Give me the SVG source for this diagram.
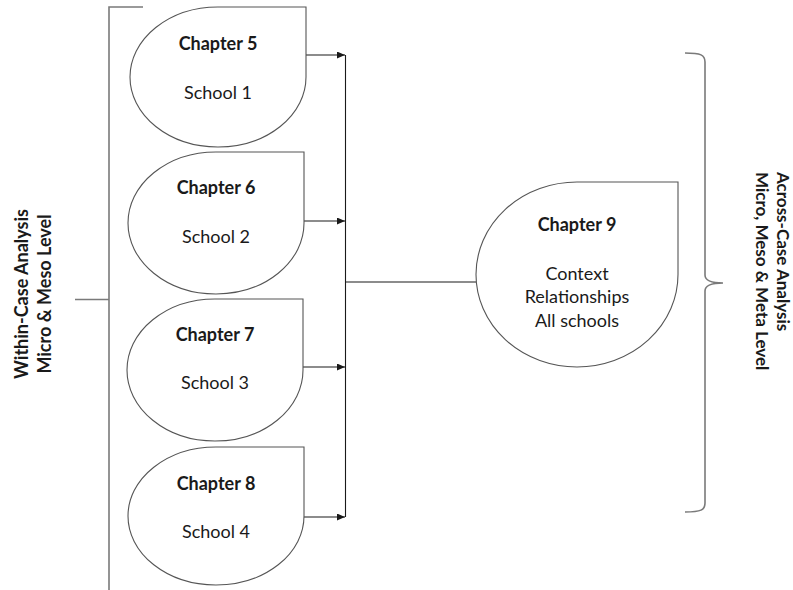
<svg xmlns="http://www.w3.org/2000/svg" width="793" height="590" viewBox="0 0 793 590">
  <style>
    .node { fill: #ffffff; stroke: #555555; stroke-width: 1.1; }
    .title { font-family: Lato, "Liberation Sans", sans-serif; font-size: 18px; font-weight: bold; fill: #1a1a1a; text-anchor: middle; }
    .body { font-family: Lato, "Liberation Sans", sans-serif; font-size: 18px; fill: #1a1a1a; text-anchor: middle; }
    .side { font-family: Lato, "Liberation Sans", sans-serif; font-weight: bold; fill: #1a1a1a; }
    .conn { fill: none; stroke: #1a1a1a; stroke-width: 1.1; }
    .brace { fill: none; stroke: #7a7a7a; stroke-width: 1.6; }
  </style>
  <defs>
    <marker id="arrow" markerUnits="userSpaceOnUse" markerWidth="8" markerHeight="7" refX="8" refY="3.5" orient="auto">
      <path d="M0,0 L8,3.5 L0,7 Z" fill="#1a1a1a"/>
    </marker>
  </defs>
  <rect width="793" height="590" fill="#ffffff"/>

  <!-- left bracket: within-case grouping -->
  <g id="left-bracket">
    <path class="brace" d="M143,7 H109 V590"/>
    <path class="brace" d="M75,299.5 H109"/>
    <text class="side" font-size="18" text-anchor="middle" transform="translate(28,294) rotate(-90)">Within-Case Analysis</text>
    <text class="side" font-size="18" text-anchor="middle" transform="translate(51,294) rotate(-90)">Micro &amp; Meso Level</text>
  </g>

  <!-- right brace: across-case grouping -->
  <g id="right-brace">
    <path class="brace" d="M685,53 C701,53 705,55 705,62 V275 Q705,283 723,283 Q705,283 705,291 V503 C705,510 701,512 685,512"/>
    <text class="side" font-size="17" text-anchor="start" transform="translate(777,172) rotate(90)">Across-Case Analysis</text>
    <text class="side" font-size="17" text-anchor="start" transform="translate(756,172) rotate(90)">Micro, Meso &amp; Meta Level</text>
  </g>

  <!-- connectors -->
  <g id="connectors">
    <line class="conn" x1="306" y1="55" x2="345" y2="55" marker-end="url(#arrow)"/>
    <line class="conn" x1="304" y1="221" x2="345" y2="221" marker-end="url(#arrow)"/>
    <line class="conn" x1="303" y1="367" x2="345" y2="367" marker-end="url(#arrow)"/>
    <line class="conn" x1="304" y1="517" x2="345" y2="517" marker-end="url(#arrow)"/>
    <line class="conn" x1="345.5" y1="55" x2="345.5" y2="517"/>
    <line class="conn" x1="345.5" y1="282" x2="476" y2="282"/>
  </g>

  <g id="chapter5">
    <path class="node" d="M218,7 H306 V77 A88,70 0 0 1 218,147 A88,70 0 0 1 130,77 A88,70 0 0 1 218,7 Z"/>
    <text class="title" x="218" y="50">Chapter 5</text>
    <text class="body" x="218" y="99">School 1</text>
  </g>

  <g id="chapter6">
    <path class="node" d="M216,152 H304 V223 A88,71 0 0 1 216,294 A88,71 0 0 1 128,223 A88,71 0 0 1 216,152 Z"/>
    <text class="title" x="216" y="194">Chapter 6</text>
    <text class="body" x="216" y="243">School 2</text>
  </g>

  <g id="chapter7">
    <path class="node" d="M215,299 H303 V370 A88,71 0 0 1 215,441 A88,71 0 0 1 127,370 A88,71 0 0 1 215,299 Z"/>
    <text class="title" x="215" y="341">Chapter 7</text>
    <text class="body" x="215" y="389">School 3</text>
  </g>

  <g id="chapter8">
    <path class="node" d="M216,447 H304 V516 A88,69 0 0 1 216,585 A88,69 0 0 1 128,516 A88,69 0 0 1 216,447 Z"/>
    <text class="title" x="216" y="490">Chapter 8</text>
    <text class="body" x="216" y="538">School 4</text>
  </g>

  <g id="chapter9">
    <path class="node" d="M577,182 H678 V274.5 A101,92.5 0 0 1 577,367 A101,92.5 0 0 1 476,274.5 A101,92.5 0 0 1 577,182 Z"/>
    <text class="title" x="577" y="231">Chapter 9</text>
    <text class="body" x="577" y="280">Context</text>
    <text class="body" x="577" y="303">Relationships</text>
    <text class="body" x="577" y="327">All schools</text>
  </g>
</svg>
